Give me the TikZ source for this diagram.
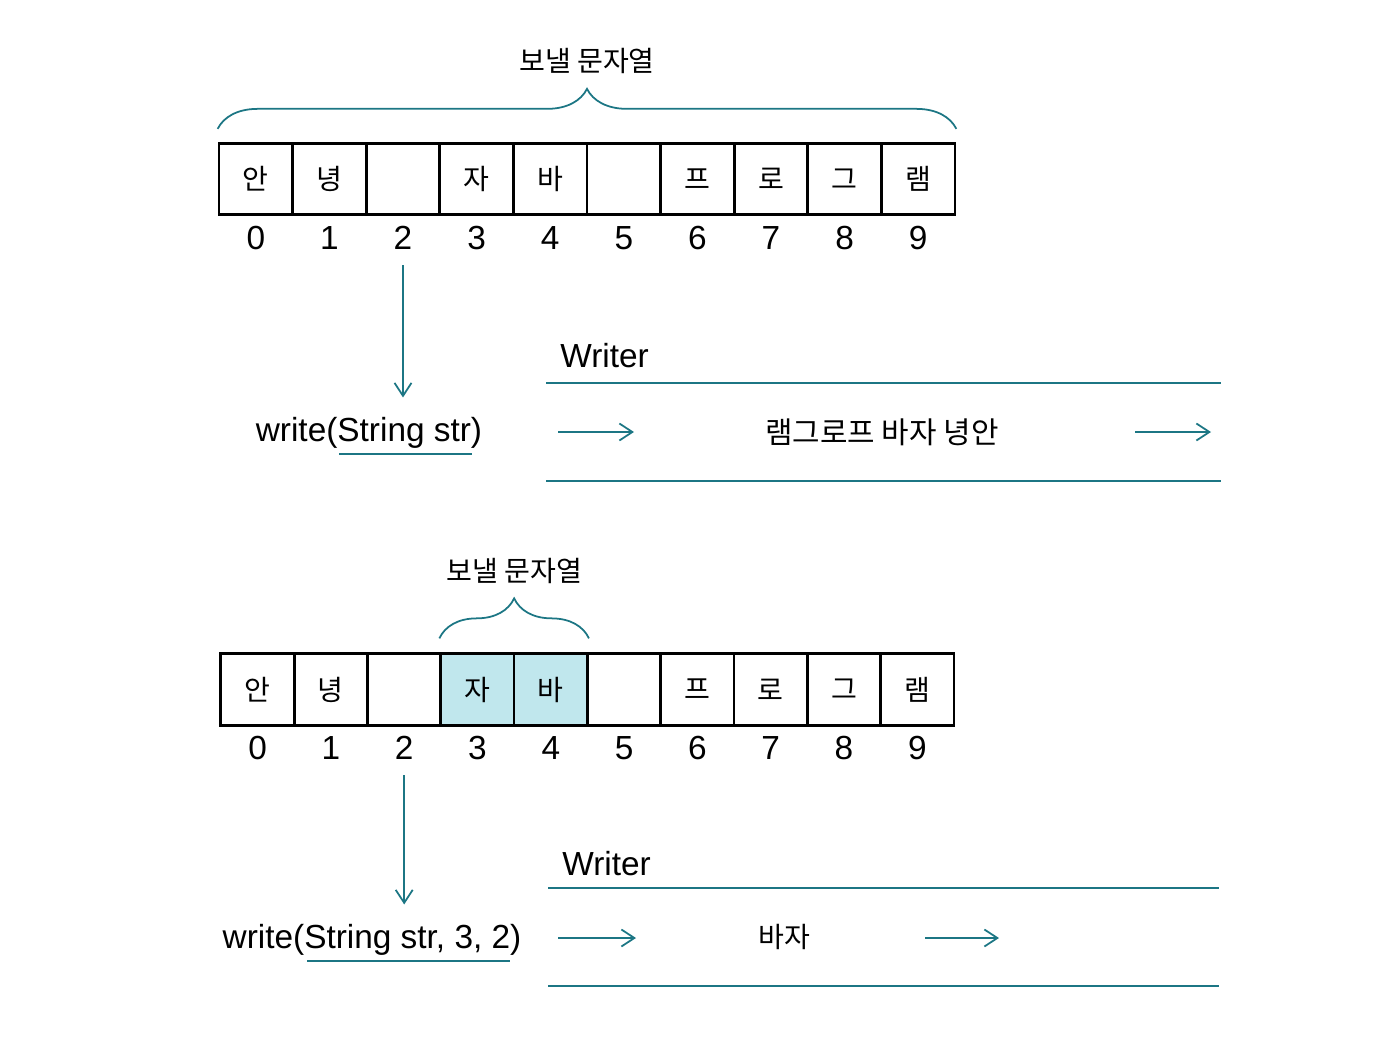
\documentclass[tikz,border=0pt]{standalone}
\usepackage{fontspec}
\setmainfont{Liberation Sans}
\newfontfamily\krfont{Noto Sans CJK KR}
\usetikzlibrary{
  arrows.meta,
  calc,
  positioning,
  decorations.pathreplacing
}
\definecolor{streamteal}{RGB}{28,118,132}
\definecolor{picked}{RGB}{192,231,237}
\tikzset{
  cell/.style={draw,line width=1.6pt,minimum width=1.47cm,minimum height=1.43cm,
    inner sep=0pt,font=\krfont\fontsize{16}{18}\selectfont},
  idx/.style={inner sep=0pt,font=\fontsize{19}{22}\selectfont},
  lbl/.style={inner sep=0pt,text=black,font=\krfont\fontsize{16}{18}\selectfont},
  call/.style={inner sep=0pt,font=\fontsize{19}{22}\selectfont},
  flow/.style={streamteal,line width=1pt,-{Straight Barb[length=2.6mm,width=3.4mm]}},
  brc/.style={streamteal,line width=1pt,decorate,decoration={brace,amplitude=0.8cm}},
  rail/.style={streamteal,line width=1.2pt}
}

\begin{document}
\begin{tikzpicture}[x=0.02cm,y=-0.02cm]
  \useasboundingbox (0,0) rectangle (1387,1048);

  % write(String str)
  \foreach \ch [count=\i from 0] in {안,녕,{},자,바,{},프,로,그,램} {
    \node[cell] (a\i) at ({255.8+73.6*\i},179) {\ch};
    \node[idx] (ia\i) at ({255.8+73.6*\i},238) {\i};
  }
  \draw[brc] ([yshift=0.26cm]a0.north west) -- ([yshift=0.26cm]a9.north east)
    node[midway,above=1.08cm,lbl] (lb1) {보낼 문자열};
  \node[call,anchor=base] (w1) at (369,441) {write(String str)};
  \draw[flow,shorten <=0.3cm,shorten >=0.38cm] (ia2.south) -- (ia2.south |- w1.north);
  \coordinate (u1a) at (339,454);
  \coordinate (u1b) at (472,454);
  \draw[rail] (u1a) -- (u1b);
  \node[call,anchor=base west] (wr1) at (560,367) {Writer};
  \coordinate (r1a) at (546,383);
  \coordinate (r1b) at (1221,383);
  \coordinate (r1c) at (546,481);
  \coordinate (r1d) at (1221,481);
  \draw[rail] (r1a) -- (r1b);
  \draw[rail] (r1c) -- (r1d);
  \node[lbl,font=\krfont\fontsize{17}{19}\selectfont] (s1) at (882,432) {램그로프 바자 녕안};
  \coordinate (f1a) at (558,432);
  \coordinate (f1b) at (634,432);
  \coordinate (f1c) at (1135,432);
  \coordinate (f1d) at (1211,432);
  \draw[flow] (f1a) -- (f1b);
  \draw[flow] (f1c) -- (f1d);

  % write(String str, 3, 2)
  \foreach \ch/\fl [count=\i from 0] in {안/white,녕/white,{}/white,자/picked,바/picked,{}/white,프/white,로/white,그/white,램/white} {
    \node[cell,fill=\fl] (b\i) at ({257.6+73.3*\i},689.5) {\ch};
    \node[idx] (ib\i) at ({257.6+73.3*\i},748) {\i};
  }
  \draw[brc] ([yshift=0.28cm]b3.north west) -- ([yshift=0.28cm]b4.north east)
    node[midway,above=1.08cm,lbl] (lb2) {보낼 문자열};
  \node[call,anchor=base] (w2) at (372,948) {write(String str, 3, 2)};
  \draw[flow,shorten <=0.3cm,shorten >=0.38cm] (ib2.south) -- (ib2.south |- w2.north);
  \coordinate (u2a) at (307,961);
  \coordinate (u2b) at (510,961);
  \draw[rail] (u2a) -- (u2b);
  \node[call,anchor=base west] (wr2) at (562,875) {Writer};
  \coordinate (r2a) at (548,888);
  \coordinate (r2b) at (1219,888);
  \coordinate (r2c) at (548,986);
  \coordinate (r2d) at (1219,986);
  \draw[rail] (r2a) -- (r2b);
  \draw[rail] (r2c) -- (r2d);
  \node[lbl] (s2) at (784,937) {바자};
  \coordinate (f2a) at (558,938);
  \coordinate (f2b) at (636,938);
  \coordinate (f2c) at (925,938);
  \coordinate (f2d) at (999,938);
  \draw[flow] (f2a) -- (f2b);
  \draw[flow] (f2c) -- (f2d);
\end{tikzpicture}
\end{document}
